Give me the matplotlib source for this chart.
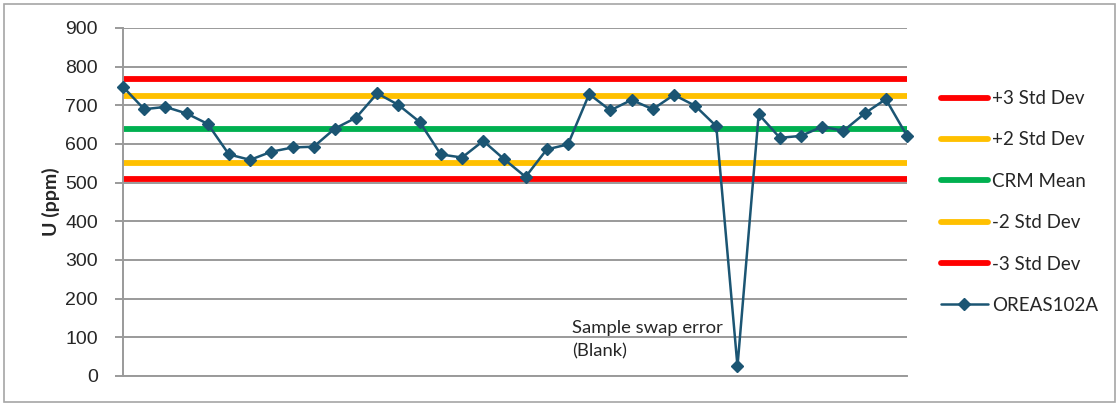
import matplotlib
matplotlib.use("Agg")
import matplotlib.pyplot as plt
from matplotlib.patches import Rectangle
import numpy as np

# Data
u_ppm = [748, 690, 696, 679, 652, 573, 559, 580, 591, 593, 640, 668, 731,
         701, 657, 573, 565, 608, 560, 515, 586, 599, 729, 687, 714, 690,
         727, 699, 646, 25, 677, 616, 621, 645, 634, 679, 716, 621]
crm_mean = 639
plus3 = 768
plus2 = 725
minus2 = 552
minus3 = 509
yticks = [0, 100, 200, 300, 400, 500, 600, 700, 800, 900]
annotation = "Sample swap error\n(Blank)"

font = "Lato"
grid_c = "#9a9a9a"
text_c = "#262626"

fig = plt.figure(figsize=(11.2, 4.05), dpi=100)
ax = fig.add_axes([123/1120, 1 - 376/405, (907-123)/1120, (376-28)/405])

n = len(u_ppm)
x = np.arange(n)

ax.axhline(plus3, color="#FF0000", lw=4.2, label="+3 Std Dev", zorder=2)
ax.axhline(plus2, color="#FFC000", lw=4.2, label="+2 Std Dev", zorder=2)
ax.axhline(crm_mean, color="#00B050", lw=4.2, label="CRM Mean", zorder=2)
ax.axhline(minus2, color="#FFC000", lw=4.2, label="-2 Std Dev", zorder=2)
ax.axhline(minus3, color="#FF0000", lw=4.2, label="-3 Std Dev", zorder=2)
ax.plot(x, u_ppm, color="#1B5573", lw=1.8, marker="D", ms=6.5,
        label="OREAS102A", zorder=4, clip_on=False)

ax.set_xlim(0, n - 1)
ax.set_ylim(0, 900)
ax.set_yticks(yticks)
ax.set_yticklabels([str(v) for v in yticks], fontsize=14, color=text_c,
                   family="Liberation Sans")
ax.set_xticks([])
ax.yaxis.grid(True, color=grid_c, lw=1.4, zorder=0)
ax.set_axisbelow(True)
for s in ["top", "right"]:
    ax.spines[s].set_visible(False)
ax.spines["left"].set_color(grid_c)
ax.spines["left"].set_linewidth(1.4)
ax.spines["bottom"].set_color(grid_c)
ax.spines["bottom"].set_linewidth(1.4)
ax.tick_params(axis="y", length=6, width=1.4, color=grid_c, pad=12)

ax.set_ylabel("U (ppm)", fontsize=14, fontweight="bold", color=text_c,
              family=font, labelpad=4)

ax.text(21.2, 146, annotation, fontsize=13.3, color=text_c, family=font,
        va="top", ha="left", linespacing=1.6)

for h in ax.get_lines():
    h.set_solid_capstyle("round")
leg = fig.legend(loc="center left", bbox_to_anchor=(924/1120, 203/405),
                 frameon=False, prop={"family": font, "size": 13.5},
                 handlelength=2.5, handletextpad=0.25, labelspacing=1.3,
                 labelcolor=text_c)
for h in leg.legend_handles:
    h.set_solid_capstyle("round")

fig.patches.append(Rectangle((4/1120, 3/405), 1111/1120, 398/405,
                             transform=fig.transFigure, fill=False,
                             edgecolor="#a6a6a6", lw=1.2))

fig.savefig("out.png", dpi=100)
